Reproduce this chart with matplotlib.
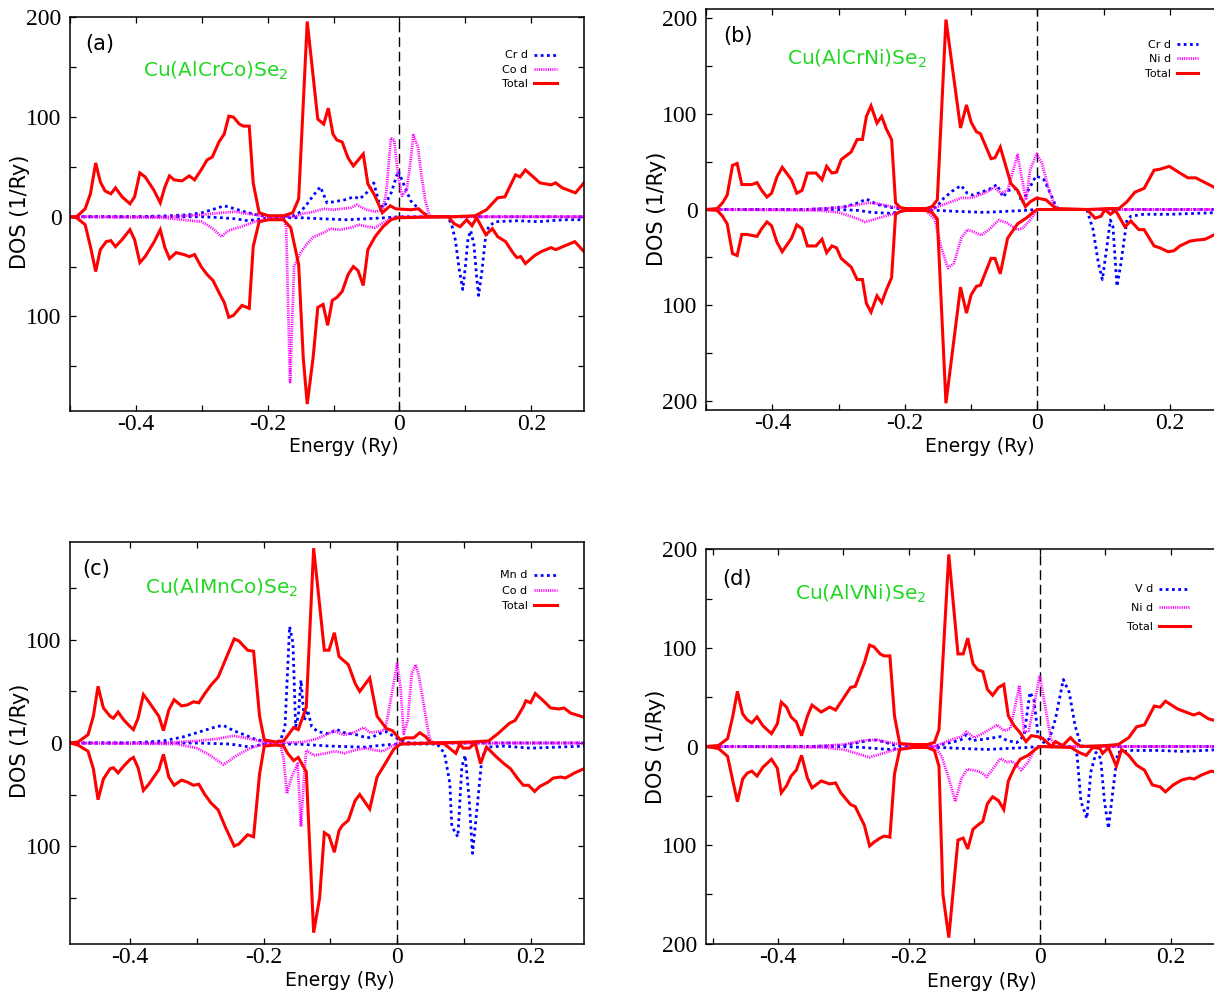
import matplotlib
matplotlib.use("Agg")
import matplotlib.pyplot as plt
from matplotlib.ticker import MultipleLocator, FuncFormatter

plt.rcParams['axes.unicode_minus'] = False

# ---------------- data: (energy [Ry], DOS [1/Ry]) ----------------
# Panel (a) Cu(AlCrCo)Se2
tot_up_a = [(-0.500,0),(-0.490,0),(-0.477,8),(-0.469,23),(-0.461,54),(-0.454,35),(-0.447,26),(-0.438,23),(-0.431,29),(-0.421,20),(-0.409,13),(-0.402,20),(-0.394,44),(-0.386,40),(-0.373,27),(-0.363,14),(-0.356,30),(-0.349,41),(-0.342,37),(-0.330,36),(-0.319,41),(-0.311,37),(-0.301,47),(-0.292,57),(-0.284,60),(-0.274,75),(-0.266,83),(-0.259,101),(-0.252,100),(-0.243,93),(-0.237,91),(-0.228,91),(-0.222,34),(-0.213,4),(-0.199,1),(-0.176,1),(-0.162,4),(-0.153,18),(-0.140,196),(-0.124,98),(-0.115,93),(-0.108,109),(-0.101,83),(-0.095,77),(-0.087,75),(-0.078,59),(-0.070,51),(-0.055,63),(-0.048,33),(-0.038,22),(-0.026,4),(-0.014,11),(-0.006,8),(0.017,7),(0.029,8),(0.039,2),(0.044,0),(0.080,0),(0.115,1),(0.132,7),(0.149,19),(0.160,20),(0.176,42),(0.183,40),(0.191,47),(0.203,40),(0.213,34),(0.230,32),(0.237,34),(0.247,29),(0.267,24),(0.280,34)]
tot_dn_a = [(-0.500,0),(-0.490,-1),(-0.477,-8),(-0.469,-30),(-0.461,-55),(-0.454,-33),(-0.445,-25),(-0.438,-24),(-0.431,-30),(-0.421,-23),(-0.409,-13),(-0.402,-23),(-0.394,-46),(-0.386,-40),(-0.373,-26),(-0.363,-13),(-0.356,-31),(-0.349,-42),(-0.339,-36),(-0.327,-38),(-0.319,-40),(-0.311,-38),(-0.301,-50),(-0.292,-58),(-0.283,-64),(-0.274,-76),(-0.266,-86),(-0.259,-101),(-0.252,-99),(-0.239,-89),(-0.228,-92),(-0.222,-30),(-0.213,-5),(-0.199,-3),(-0.176,-3),(-0.165,-11),(-0.153,-48),(-0.146,-142),(-0.140,-188),(-0.131,-141),(-0.124,-91),(-0.116,-88),(-0.109,-109),(-0.102,-84),(-0.095,-81),(-0.087,-75),(-0.078,-58),(-0.070,-50),(-0.063,-54),(-0.055,-69),(-0.048,-33),(-0.037,-20),(-0.025,-10),(-0.013,-3),(-0.002,-1),(0.074,0),(0.083,-7),(0.092,-10),(0.102,-3),(0.110,-9),(0.117,-1),(0.131,-18),(0.141,-12),(0.149,-20),(0.161,-25),(0.172,-36),(0.178,-41),(0.184,-40),(0.191,-47),(0.205,-39),(0.215,-35),(0.230,-31),(0.237,-33),(0.248,-30),(0.266,-25),(0.280,-35)]
tm1_up_a = [(-0.500,0),(-0.400,0),(-0.350,1),(-0.320,2),(-0.300,4),(-0.280,8),(-0.266,11),(-0.250,8),(-0.230,4),(-0.210,1),(-0.180,0),(-0.160,1),(-0.150,5),(-0.140,13),(-0.130,22),(-0.120,30),(-0.110,14),(-0.100,15),(-0.083,17),(-0.069,20),(-0.060,18),(-0.050,24),(-0.039,34),(-0.031,14),(-0.024,9),(-0.012,25),(-0.002,46),(0.008,30),(0.017,16),(0.032,6),(0.045,0),(0.280,0)]
tm1_dn_a = [(-0.500,0),(-0.300,0),(-0.270,-1),(-0.250,-2),(-0.230,-4),(-0.210,-2),(-0.190,-1),(-0.150,-1),(-0.120,-2),(-0.080,-3),(-0.050,-2),(-0.020,-1),(0.000,0),(0.070,0),(0.075,-2),(0.080,-10),(0.085,-24),(0.090,-50),(0.096,-73),(0.100,-50),(0.104,-22),(0.108,-14),(0.113,-28),(0.117,-60),(0.120,-79),(0.125,-55),(0.130,-24),(0.135,-10),(0.145,-5),(0.180,-4),(0.210,-5),(0.250,-3),(0.280,-3)]
tm2_up_a = [(-0.500,0),(-0.350,0),(-0.300,2),(-0.270,4),(-0.250,5),(-0.230,3),(-0.200,0),(-0.160,0),(-0.147,3),(-0.130,5),(-0.115,8),(-0.100,7),(-0.074,9),(-0.065,12),(-0.050,7),(-0.035,5),(-0.025,8),(-0.020,25),(-0.013,79),(-0.008,77),(-0.002,40),(0.004,21),(0.011,27),(0.017,57),(0.021,82),(0.028,70),(0.033,43),(0.039,17),(0.045,2),(0.050,0),(0.280,0)]
tm2_dn_a = [(-0.500,0),(-0.360,-1),(-0.330,-3),(-0.300,-5),(-0.285,-11),(-0.270,-20),(-0.260,-14),(-0.240,-10),(-0.220,-5),(-0.200,-2),(-0.175,-2),(-0.172,-10),(-0.166,-166),(-0.160,-50),(-0.150,-36),(-0.140,-27),(-0.130,-20),(-0.115,-16),(-0.105,-12),(-0.090,-13),(-0.074,-11),(-0.062,-8),(-0.048,-10),(-0.037,-11),(-0.025,-6),(-0.010,-1),(0.000,0),(0.280,0)]

# Panel (b) Cu(AlCrNi)Se2
tot_up_b = [(-0.500,0),(-0.483,1),(-0.475,7),(-0.468,15),(-0.460,46),(-0.453,48),(-0.446,26),(-0.438,26),(-0.431,26),(-0.423,28),(-0.416,20),(-0.408,13),(-0.401,17),(-0.393,34),(-0.385,44),(-0.371,31),(-0.363,17),(-0.355,20),(-0.347,38),(-0.334,38),(-0.325,31),(-0.318,45),(-0.310,38),(-0.303,39),(-0.296,52),(-0.281,60),(-0.272,73),(-0.264,73),(-0.258,97),(-0.251,108),(-0.242,90),(-0.235,97),(-0.228,84),(-0.220,73),(-0.214,7),(-0.207,2),(-0.198,1),(-0.168,1),(-0.159,3),(-0.151,10),(-0.138,198),(-0.116,85),(-0.107,109),(-0.100,91),(-0.092,81),(-0.086,79),(-0.070,53),(-0.064,54),(-0.056,65),(-0.040,27),(-0.030,20),(-0.018,3),(-0.011,8),(-0.001,12),(0.013,10),(0.028,1),(0.075,0),(0.108,1),(0.123,1),(0.135,8),(0.147,18),(0.161,22),(0.176,41),(0.185,42),(0.199,45),(0.215,38),(0.227,33),(0.239,33),(0.253,28),(0.270,22),(0.280,24)]
tot_dn_b = [(-0.500,0),(-0.483,-1),(-0.475,-7),(-0.468,-15),(-0.460,-46),(-0.453,-48),(-0.446,-26),(-0.438,-26),(-0.431,-27),(-0.423,-28),(-0.416,-20),(-0.408,-13),(-0.401,-17),(-0.393,-34),(-0.385,-44),(-0.371,-30),(-0.363,-16),(-0.355,-20),(-0.347,-38),(-0.334,-38),(-0.325,-31),(-0.318,-45),(-0.310,-38),(-0.303,-40),(-0.296,-51),(-0.281,-60),(-0.272,-73),(-0.264,-73),(-0.258,-98),(-0.251,-107),(-0.242,-90),(-0.235,-97),(-0.228,-84),(-0.220,-71),(-0.214,-5),(-0.207,-2),(-0.198,-1),(-0.168,-1),(-0.159,-3),(-0.151,-10),(-0.138,-202),(-0.116,-81),(-0.107,-108),(-0.100,-89),(-0.092,-80),(-0.086,-79),(-0.070,-51),(-0.064,-51),(-0.056,-67),(-0.045,-30),(-0.030,-15),(-0.015,-8),(-0.005,-2),(0.000,0),(0.075,0),(0.087,-9),(0.096,-7),(0.102,0),(0.110,-5),(0.118,-1),(0.132,-18),(0.141,-12),(0.153,-21),(0.161,-21),(0.176,-38),(0.185,-40),(0.197,-44),(0.206,-43),(0.215,-38),(0.230,-33),(0.239,-32),(0.253,-31),(0.262,-28),(0.270,-25),(0.280,-24)]
tm1_up_b = [(-0.500,0),(-0.350,0),(-0.320,1),(-0.290,3),(-0.270,7),(-0.258,11),(-0.250,8),(-0.240,5),(-0.220,2),(-0.200,0),(-0.160,0),(-0.150,4),(-0.144,10),(-0.129,19),(-0.115,25),(-0.106,17),(-0.097,15),(-0.085,18),(-0.073,21),(-0.061,26),(-0.052,13),(-0.043,20),(-0.031,22),(-0.023,7),(-0.014,20),(-0.002,35),(0.010,31),(0.022,13),(0.028,3),(0.034,0),(0.280,0)]
tm1_dn_b = [(-0.500,0),(-0.300,0),(-0.270,-1),(-0.250,-3),(-0.220,-4),(-0.200,-1),(-0.150,-1),(-0.120,-2),(-0.080,-3),(-0.050,-2),(-0.020,-1),(0.000,0),(0.070,0),(0.075,-1),(0.084,-21),(0.092,-56),(0.098,-73),(0.105,-38),(0.110,-11),(0.114,-18),(0.120,-80),(0.126,-56),(0.135,-11),(0.141,-7),(0.160,-5),(0.200,-5),(0.240,-4),(0.280,-3)]
tm2_up_b = [(-0.500,0),(-0.350,0),(-0.300,2),(-0.270,5),(-0.255,7),(-0.240,6),(-0.220,3),(-0.200,1),(-0.160,0),(-0.150,3),(-0.130,8),(-0.115,12),(-0.100,12),(-0.080,17),(-0.065,23),(-0.055,17),(-0.045,20),(-0.030,57),(-0.023,31),(-0.017,10),(-0.011,41),(-0.001,58),(0.007,48),(0.016,24),(0.025,5),(0.031,0),(0.280,0)]
tm2_dn_b = [(-0.500,0),(-0.330,-1),(-0.300,-3),(-0.270,-10),(-0.260,-13),(-0.240,-9),(-0.220,-5),(-0.200,-1),(-0.170,0),(-0.155,-10),(-0.145,-40),(-0.135,-61),(-0.126,-56),(-0.115,-30),(-0.106,-21),(-0.097,-23),(-0.085,-27),(-0.073,-21),(-0.058,-11),(-0.046,-14),(-0.031,-21),(-0.023,-20),(-0.011,-11),(-0.002,-2),(0.000,0),(0.280,0)]

# Panel (c) Cu(AlMnCo)Se2
tot_up_c = [(-0.490,0),(-0.478,1),(-0.463,8),(-0.455,26),(-0.448,55),(-0.440,34),(-0.430,26),(-0.425,24),(-0.418,30),(-0.409,22),(-0.400,16),(-0.395,13),(-0.388,24),(-0.380,47),(-0.372,40),(-0.357,26),(-0.350,12),(-0.342,32),(-0.334,42),(-0.323,36),(-0.314,37),(-0.305,40),(-0.297,39),(-0.288,48),(-0.279,56),(-0.268,64),(-0.257,81),(-0.244,101),(-0.237,99),(-0.224,90),(-0.215,89),(-0.206,26),(-0.199,3),(-0.182,1),(-0.170,2),(-0.164,7),(-0.155,15),(-0.148,13),(-0.136,35),(-0.125,189),(-0.109,90),(-0.102,90),(-0.094,107),(-0.087,84),(-0.082,81),(-0.073,76),(-0.063,58),(-0.056,50),(-0.041,63),(-0.030,26),(-0.016,14),(-0.007,12),(0.005,3),(0.013,5),(0.025,5),(0.034,10),(0.043,6),(0.051,0),(0.111,1),(0.137,2),(0.151,9),(0.168,19),(0.177,22),(0.189,35),(0.193,41),(0.200,39),(0.207,48),(0.219,41),(0.230,34),(0.243,33),(0.250,34),(0.260,29),(0.280,25)]
tot_dn_c = [(-0.490,0),(-0.478,-2),(-0.463,-8),(-0.455,-25),(-0.448,-55),(-0.440,-35),(-0.430,-25),(-0.425,-24),(-0.418,-29),(-0.409,-22),(-0.400,-16),(-0.395,-14),(-0.388,-24),(-0.380,-46),(-0.372,-40),(-0.357,-26),(-0.350,-11),(-0.342,-33),(-0.334,-41),(-0.323,-36),(-0.314,-38),(-0.305,-41),(-0.297,-40),(-0.288,-50),(-0.279,-58),(-0.268,-65),(-0.257,-82),(-0.244,-100),(-0.237,-98),(-0.224,-89),(-0.215,-91),(-0.206,-30),(-0.199,-3),(-0.182,-2),(-0.170,-3),(-0.164,-10),(-0.155,-17),(-0.148,-14),(-0.136,-28),(-0.125,-184),(-0.116,-150),(-0.109,-87),(-0.102,-90),(-0.094,-106),(-0.087,-85),(-0.082,-80),(-0.073,-75),(-0.063,-56),(-0.056,-50),(-0.041,-64),(-0.030,-33),(-0.016,-18),(-0.005,-6),(0.005,-1),(0.059,0),(0.071,-1),(0.088,-10),(0.094,-1),(0.099,-5),(0.108,-5),(0.117,0),(0.125,-20),(0.134,-4),(0.148,-13),(0.160,-20),(0.170,-25),(0.180,-34),(0.189,-41),(0.197,-41),(0.206,-47),(0.214,-42),(0.226,-38),(0.234,-34),(0.245,-33),(0.252,-34),(0.266,-29),(0.280,-25)]
tm1_up_c = [(-0.490,0),(-0.400,0),(-0.350,2),(-0.320,6),(-0.290,12),(-0.270,16),(-0.260,17),(-0.245,12),(-0.225,7),(-0.210,3),(-0.190,1),(-0.175,2),(-0.168,15),(-0.161,113),(-0.156,97),(-0.152,16),(-0.148,26),(-0.144,61),(-0.139,22),(-0.134,32),(-0.128,16),(-0.119,11),(-0.102,9),(-0.090,13),(-0.079,10),(-0.061,8),(-0.045,5),(-0.036,6),(-0.027,9),(-0.016,11),(-0.004,6),(0.005,3),(0.013,1),(0.020,0),(0.280,0)]
tm1_dn_c = [(-0.490,0),(-0.300,0),(-0.250,-1),(-0.230,-3),(-0.220,-4),(-0.200,-1),(-0.150,-1),(-0.100,-3),(-0.050,-4),(-0.020,-2),(0.000,-1),(0.060,-1),(0.071,-10),(0.079,-39),(0.082,-81),(0.091,-91),(0.097,-23),(0.102,-12),(0.108,-55),(0.113,-107),(0.120,-62),(0.127,-15),(0.134,-4),(0.160,-3),(0.200,-5),(0.240,-4),(0.280,-3)]
tm2_up_c = [(-0.490,0),(-0.350,0),(-0.300,2),(-0.270,4),(-0.245,7),(-0.220,4),(-0.200,1),(-0.180,0),(-0.140,1),(-0.120,4),(-0.100,10),(-0.095,12),(-0.080,8),(-0.065,10),(-0.050,15),(-0.040,10),(-0.020,12),(-0.016,19),(-0.007,51),(0.000,77),(0.005,55),(0.010,9),(0.016,22),(0.022,68),(0.028,76),(0.033,64),(0.042,29),(0.048,6),(0.053,0),(0.280,0)]
tm2_dn_c = [(-0.490,0),(-0.330,-1),(-0.300,-5),(-0.280,-12),(-0.260,-21),(-0.240,-12),(-0.220,-5),(-0.200,-1),(-0.175,-1),(-0.170,-15),(-0.165,-49),(-0.158,-33),(-0.149,-20),(-0.144,-81),(-0.139,-29),(-0.136,-7),(-0.125,-12),(-0.107,-10),(-0.093,-8),(-0.079,-10),(-0.064,-7),(-0.047,-5),(-0.033,-7),(-0.021,-8),(-0.010,-4),(0.000,0),(0.280,0)]

# Panel (d) Cu(AlVNi)Se2
tot_up_d = [(-0.510,0),(-0.491,1),(-0.477,8),(-0.469,31),(-0.462,56),(-0.454,33),(-0.447,27),(-0.440,24),(-0.432,30),(-0.423,21),(-0.410,13),(-0.401,23),(-0.395,45),(-0.387,40),(-0.380,30),(-0.372,25),(-0.364,11),(-0.355,31),(-0.348,42),(-0.334,35),(-0.321,40),(-0.312,37),(-0.304,45),(-0.289,60),(-0.282,61),(-0.268,85),(-0.260,103),(-0.253,101),(-0.244,94),(-0.238,92),(-0.229,92),(-0.222,31),(-0.214,3),(-0.193,2),(-0.172,2),(-0.161,4),(-0.154,17),(-0.139,195),(-0.125,94),(-0.117,94),(-0.110,110),(-0.102,84),(-0.095,78),(-0.087,76),(-0.080,58),(-0.072,52),(-0.063,60),(-0.055,63),(-0.048,31),(-0.039,21),(-0.030,14),(-0.021,5),(-0.013,11),(-0.003,10),(0.005,8),(0.018,0),(0.024,5),(0.035,1),(0.047,9),(0.054,4),(0.063,0),(0.102,1),(0.120,2),(0.136,9),(0.148,20),(0.160,22),(0.175,41),(0.184,40),(0.192,46),(0.211,38),(0.223,35),(0.235,32),(0.244,34),(0.258,28),(0.270,26),(0.280,27)]
tot_dn_d = [(-0.510,0),(-0.491,-2),(-0.477,-10),(-0.469,-35),(-0.462,-56),(-0.454,-33),(-0.447,-27),(-0.440,-25),(-0.432,-30),(-0.423,-21),(-0.410,-13),(-0.401,-22),(-0.395,-47),(-0.387,-40),(-0.380,-30),(-0.372,-24),(-0.364,-9),(-0.355,-32),(-0.348,-42),(-0.334,-35),(-0.321,-38),(-0.312,-37),(-0.304,-47),(-0.289,-59),(-0.282,-61),(-0.268,-80),(-0.260,-101),(-0.253,-97),(-0.244,-93),(-0.238,-91),(-0.229,-92),(-0.222,-28),(-0.214,-3),(-0.193,-1),(-0.172,-1),(-0.161,-4),(-0.154,-20),(-0.148,-150),(-0.139,-194),(-0.125,-95),(-0.117,-93),(-0.110,-104),(-0.102,-84),(-0.095,-80),(-0.087,-76),(-0.080,-58),(-0.072,-51),(-0.063,-55),(-0.055,-64),(-0.048,-35),(-0.039,-22),(-0.030,-13),(-0.018,-9),(-0.005,-2),(0.000,0),(0.048,-1),(0.060,-6),(0.071,-9),(0.081,-1),(0.092,-2),(0.096,-7),(0.105,-1),(0.117,-20),(0.125,-3),(0.136,-9),(0.148,-19),(0.160,-24),(0.172,-39),(0.184,-41),(0.192,-46),(0.204,-39),(0.217,-34),(0.229,-32),(0.236,-33),(0.247,-29),(0.262,-25),(0.270,-26),(0.280,-27)]
tm1_up_d = [(-0.510,0),(-0.350,0),(-0.300,1),(-0.270,5),(-0.255,7),(-0.240,5),(-0.220,1),(-0.200,0),(-0.160,0),(-0.150,2),(-0.130,5),(-0.120,7),(-0.112,12),(-0.105,6),(-0.090,7),(-0.070,9),(-0.060,10),(-0.050,6),(-0.035,4),(-0.024,11),(-0.015,55),(-0.009,48),(-0.003,14),(0.006,4),(0.015,8),(0.024,28),(0.036,68),(0.045,55),(0.054,21),(0.063,1),(0.070,0),(0.280,0)]
tm1_dn_d = [(-0.510,0),(-0.300,0),(-0.270,-1),(-0.250,-2),(-0.230,-3),(-0.200,-1),(-0.150,-1),(-0.120,-2),(-0.080,-3),(-0.050,-2),(-0.020,-1),(0.000,0),(0.050,0),(0.057,-9),(0.063,-56),(0.072,-73),(0.078,-26),(0.086,-6),(0.093,-12),(0.099,-56),(0.105,-83),(0.111,-49),(0.119,-6),(0.140,-4),(0.180,-4),(0.220,-5),(0.280,-3)]
tm2_up_d = [(-0.510,0),(-0.350,0),(-0.300,2),(-0.270,6),(-0.250,7),(-0.230,4),(-0.200,1),(-0.160,0),(-0.150,3),(-0.135,7),(-0.120,10),(-0.112,15),(-0.100,9),(-0.085,14),(-0.065,22),(-0.055,16),(-0.045,18),(-0.031,62),(-0.024,14),(-0.017,16),(-0.009,41),(0.000,72),(0.009,38),(0.017,8),(0.024,0),(0.280,0)]
tm2_dn_d = [(-0.510,0),(-0.330,-1),(-0.300,-3),(-0.270,-9),(-0.260,-11),(-0.240,-7),(-0.220,-3),(-0.200,-1),(-0.160,0),(-0.150,-10),(-0.140,-30),(-0.129,-56),(-0.120,-33),(-0.111,-23),(-0.102,-24),(-0.090,-26),(-0.081,-31),(-0.072,-23),(-0.060,-12),(-0.051,-16),(-0.042,-15),(-0.028,-24),(-0.018,-16),(-0.007,-2),(0.000,0),(0.280,0)]

panel_tags = ["(a)", "(b)", "(c)", "(d)"]
compounds = ["Cu(AlCrCo)Se$_2$", "Cu(AlCrNi)Se$_2$", "Cu(AlMnCo)Se$_2$", "Cu(AlVNi)Se$_2$"]
tm1_names = ["Cr d", "Cr d", "Mn d", "V d"]
tm2_names = ["Co d", "Ni d", "Co d", "Ni d"]
total_name = "Total"

# ---------------- layout ----------------
W, H = 1214, 996
fig = plt.figure(figsize=(W / 100, H / 100), dpi=100)

# axes rectangles in pixels: left, right, top, bottom
rects = [(70, 584, 17, 411), (706, 1223, 9, 410), (70, 584, 542, 944), (706, 1223, 549, 944)]
xlims = [(-0.50, 0.28), (-0.50, 0.28), (-0.49, 0.28), (-0.51, 0.28)]
ylims = [(-195, 200.5), (-209, 209), (-195, 195), (-200.5, 200.5)]
tag_pos = [(0.058, 0.931), (0.062, 0.933), (0.051, 0.933), (0.060, 0.924)]
comp_pos = [(0.142, 0.848), (0.156, 0.860), (0.146, 0.871), (0.173, 0.871)]
xlab_pos = [(0.532, -0.091), (0.530, -0.092), (0.525, -0.090), (0.534, -0.096)]
ylab_pos = [(-0.097, 0.505), (-0.095, 0.501), (-0.097, 0.505), (-0.097, 0.499)]
# legend: right end of handle (px), centre y of first row (px), row spacing, handle length
leg_cfg = [(557, 57, 0.40, 2.1), (1198, 46, 0.44, 1.9), (557, 577, 0.48, 2.1), (1190, 591, 0.78, 2.8)]

data = [
    (tot_up_a, tot_dn_a, tm1_up_a, tm1_dn_a, tm2_up_a, tm2_dn_a),
    (tot_up_b, tot_dn_b, tm1_up_b, tm1_dn_b, tm2_up_b, tm2_dn_b),
    (tot_up_c, tot_dn_c, tm1_up_c, tm1_dn_c, tm2_up_c, tm2_dn_c),
    (tot_up_d, tot_dn_d, tm1_up_d, tm1_dn_d, tm2_up_d, tm2_dn_d),
]

RED, BLUE, MAG, GREEN = "#ff0000", "#0000ff", "#ff00ff", "#22d822"
serif = "Liberation Serif"
sans = "DejaVu Sans"

def xy(pairs):
    return [p[0] for p in pairs], [p[1] for p in pairs]

leg_fs = 8
for i in range(4):
    l, r, t, b = rects[i]
    ax = fig.add_axes([l / W, 1 - b / H, (r - l) / W, (b - t) / H])
    tot_up, tot_dn, t1_up, t1_dn, t2_up, t2_dn = data[i]

    blue_kw = dict(color=BLUE, lw=2.0, dashes=(1.0, 1.25))
    mag_kw = dict(color=MAG, lw=2.0, dashes=(0.4, 0.4))
    red_kw = dict(color=RED, lw=2.2, solid_joinstyle="miter")

    hb, = ax.plot(*xy(t1_up), **blue_kw)
    ax.plot(*xy(t1_dn), **blue_kw)
    hm, = ax.plot(*xy(t2_up), **mag_kw)
    ax.plot(*xy(t2_dn), **mag_kw)
    hr, = ax.plot(*xy(tot_up), **red_kw)
    ax.plot(*xy(tot_dn), **red_kw)

    ax.axvline(0, color="black", lw=1.0, dashes=(7, 3.5), zorder=1)

    ax.set_xlim(*xlims[i])
    ax.set_ylim(*ylims[i])
    ax.xaxis.set_major_locator(MultipleLocator(0.2))
    ax.xaxis.set_minor_locator(MultipleLocator(0.1))
    ax.yaxis.set_major_locator(MultipleLocator(100))
    ax.yaxis.set_minor_locator(MultipleLocator(50))
    ax.xaxis.set_major_formatter(FuncFormatter(lambda v, p: "%g" % round(v, 3)))
    ax.yaxis.set_major_formatter(FuncFormatter(lambda v, p: "%d" % abs(round(v))))
    ax.tick_params(which="both", direction="in", top=True, right=True,
                   length=4.5, width=0.9, colors="black",
                   labelfontfamily=serif, labelsize=17)
    ax.tick_params(axis="x", which="major", pad=2.5)
    ax.tick_params(axis="y", which="major", pad=6)
    for s in ax.spines.values():
        s.set_linewidth(1.1)

    ax.set_xlabel("Energy (Ry)", fontsize=13.5, family=sans, va="center")
    ax.xaxis.set_label_coords(*xlab_pos[i])
    ax.set_ylabel("DOS (1/Ry)", fontsize=15, family=sans, va="center")
    ax.yaxis.set_label_coords(*ylab_pos[i])

    ax.text(*tag_pos[i], panel_tags[i], transform=ax.transAxes, fontsize=15,
            family=sans, ha="center", va="center")
    ax.text(*comp_pos[i], compounds[i], transform=ax.transAxes, fontsize=14.5,
            family=sans, color=GREEN, ha="left", va="baseline")

    xr, yc, lsp, hl = leg_cfg[i]
    row_h = leg_fs * 100 / 72 * 1.17
    leg = ax.legend([hb, hm, hr], [tm1_names[i], tm2_names[i], total_name],
                    loc="upper right", bbox_to_anchor=(xr / W, 1 - (yc - row_h / 2) / H),
                    bbox_transform=fig.transFigure, frameon=False, markerfirst=False,
                    fontsize=leg_fs, handlelength=hl, handletextpad=0.55,
                    labelspacing=lsp, borderpad=0, borderaxespad=0)

fig.savefig("out.png", dpi=100)
